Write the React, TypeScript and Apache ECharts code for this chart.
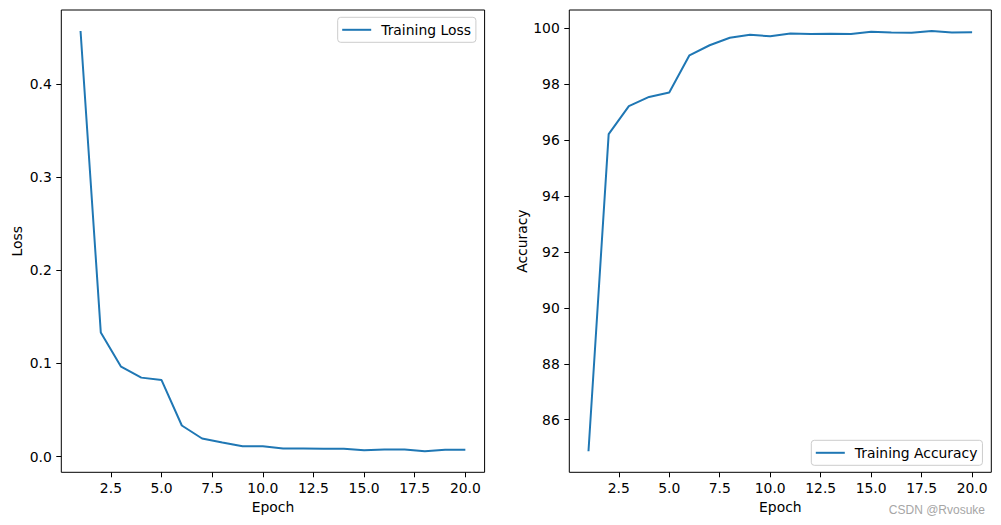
import React, { useEffect, useRef } from "react";
import * as echarts from "echarts";

const epochs = [1, 2, 3, 4, 5, 6, 7, 8, 9, 10, 11, 12, 13, 14, 15, 16, 17, 18, 19, 20];
const lossValues = [0.457, 0.1333, 0.0966, 0.0848, 0.0822, 0.0334, 0.0194, 0.0152, 0.0111, 0.0110, 0.0086, 0.0087, 0.0085, 0.0084, 0.0068, 0.0077, 0.0076, 0.0057, 0.0073, 0.0073];
const accValues = [84.87, 96.22, 97.22, 97.55, 97.71, 99.04, 99.40, 99.67, 99.78, 99.72, 99.82, 99.80, 99.81, 99.80, 99.88, 99.86, 99.85, 99.91, 99.86, 99.87];
const xTicks = [2.5, 5, 7.5, 10, 12.5, 15, 17.5, 20];
const lossTicks = [0, 0.1, 0.2, 0.3, 0.4];
const accTicks = [86, 88, 90, 92, 94, 96, 98, 100];

const FONT = "DejaVu Sans";
const BLUE = "#1f77b4";

function pad(min: number, max: number) {
  const r = max - min;
  return [min - r * 0.05, max + r * 0.05];
}

export default function App() {
  const ref = useRef<HTMLDivElement>(null);
  useEffect(() => {
    if (!ref.current) return;
    const chart = echarts.init(ref.current, null, { renderer: "svg" });
    const [xmin, xmax] = pad(epochs[0], epochs[epochs.length - 1]);
    const [lmin, lmax] = pad(Math.min(...lossValues), Math.max(...lossValues));
    const [amin, amax] = pad(Math.min(...accValues), Math.max(...accValues));
    const xAxisBase = (gridIndex: number) => ({
      type: "value",
      gridIndex,
      min: xmin,
      max: xmax,
      name: "Epoch",
      nameLocation: "middle",
      nameGap: 28,
      nameTextStyle: { fontFamily: FONT, fontSize: 13.9, color: "#000" },
      axisLine: { show: false, onZero: false },
      splitLine: { show: false },
      axisTick: { show: true, length: 5, customValues: xTicks, lineStyle: { color: "#000" } },
      axisLabel: {
        customValues: xTicks,
        formatter: (v: number) => v.toFixed(1),
        fontFamily: FONT,
        fontSize: 13.9,
        color: "#000",
        margin: 9,
      },
    });
    const yAxisBase = (gridIndex: number, min: number, max: number, ticks: number[], name: string, fmt: (v: number) => string, gap: number) => ({
      type: "value",
      gridIndex,
      min,
      max,
      name,
      nameLocation: "middle",
      nameGap: gap,
      nameTextStyle: { fontFamily: FONT, fontSize: 13.9, color: "#000" },
      axisLine: { show: false, onZero: false },
      splitLine: { show: false },
      axisTick: { show: true, length: 5, customValues: ticks, lineStyle: { color: "#000" } },
      axisLabel: {
        customValues: ticks,
        formatter: fmt,
        fontFamily: FONT,
        fontSize: 13.9,
        color: "#000",
        margin: 9.5,
      },
    });
    const legendBase = {
      orient: "horizontal",
      icon: "rect",
      itemWidth: 29,
      itemHeight: 2,
      padding: [5.5, 5, 5.5, 4.5],
      backgroundColor: "rgba(255,255,255,0.8)",
      borderColor: "#cccccc",
      borderWidth: 1,
      borderRadius: 3,
      textStyle: { fontFamily: FONT, fontSize: 13.9, color: "#000", padding: [0, 0, 0, 5] },
    };
    chart.setOption({
      animation: false,
      backgroundColor: "#fff",
      grid: [
        { left: 61.3, top: 10, width: 423.3, height: 462.3, show: true, borderColor: "#000", borderWidth: 1, backgroundColor: "transparent" },
        { left: 569.3, top: 10, width: 422, height: 462.3, show: true, borderColor: "#000", borderWidth: 1, backgroundColor: "transparent" },
      ],
      xAxis: [xAxisBase(0), xAxisBase(1)],
      yAxis: [
        yAxisBase(0, lmin, lmax, lossTicks, "Loss", (v: number) => v.toFixed(1), 37),
        yAxisBase(1, amin, amax, accTicks, "Accuracy", (v: number) => String(Math.round(v)), 37),
      ],
      legend: [
        { ...legendBase, data: ["Training Loss"], left: 337.7, top: 17.3 },
        { ...legendBase, data: ["Training Accuracy"], left: 811.3, top: 440.3 },
      ],
      series: [
        {
          name: "Training Loss",
          type: "line",
          xAxisIndex: 0,
          yAxisIndex: 0,
          symbol: "none",
          data: epochs.map((e, i) => [e, lossValues[i]]),
          lineStyle: { color: BLUE, width: 2 },
          itemStyle: { color: BLUE },
        },
        {
          name: "Training Accuracy",
          type: "line",
          xAxisIndex: 1,
          yAxisIndex: 1,
          symbol: "none",
          data: epochs.map((e, i) => [e, accValues[i]]),
          lineStyle: { color: BLUE, width: 2 },
          itemStyle: { color: BLUE },
        },
      ],
      graphic: [
        {
          type: "text",
          right: 16,
          top: 504,
          style: { text: "CSDN @Rvosuke", fill: "#a6a6a6", font: "12px 'Liberation Sans'" },
        },
      ],
    });
    return () => chart.dispose();
  }, []);
  return <div ref={ref} style={{ position: "fixed", left: 0, top: 0, width: 1001, height: 525 }} />;
}
